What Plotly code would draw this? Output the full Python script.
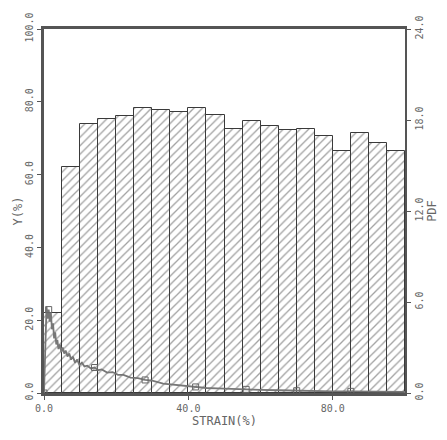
import plotly.graph_objects as go

# Histogram bins (STRAIN %, width 5) and bar heights Y(%)
bin_left = [0, 5, 10, 15, 20, 25, 30, 35, 40, 45, 50, 55, 60, 65, 70, 75, 80, 85, 90, 95]
bar_y = [22.0, 62.0, 74.0, 75.3, 76.0, 78.2, 77.8, 77.3, 78.3, 76.3,
         72.5, 74.7, 73.4, 72.3, 72.5, 70.5, 66.6, 71.4, 68.6, 66.6]

# PDF curve (right axis)
pdf_x = [0.0, 0.4, 0.7, 1.0, 1.3, 1.6, 1.9, 2.2, 2.5, 2.8, 3.1, 3.4, 3.7, 4.0, 4.4, 4.8,
         5.2, 5.6, 6.0, 6.5, 7.0, 7.5, 8.0, 8.6, 9.2, 9.8, 10.5, 11.2, 12.0, 13.0, 14.0,
         15.0, 16.0, 17.5, 19.0, 20.5, 22, 24, 26, 28, 30, 33, 36, 39, 42, 45, 48, 52,
         56, 60, 65, 70, 75, 80, 85, 90, 95, 100]
pdf_y = [0.0, 4.6, 5.7, 4.9, 5.5, 4.7, 5.3, 4.2, 4.6, 3.6, 4.0, 3.2, 3.5, 2.9, 3.2, 2.7,
         3.0, 2.6, 2.8, 2.4, 2.6, 2.2, 2.4, 2.0, 2.2, 1.85, 2.0, 1.75, 1.8, 1.62, 1.68,
         1.5, 1.55, 1.35, 1.38, 1.2, 1.2, 1.02, 0.98, 0.86, 0.82, 0.62, 0.55, 0.45, 0.40,
         0.33, 0.31, 0.26, 0.24, 0.20, 0.18, 0.15, 0.14, 0.11, 0.11, 0.09, 0.09, 0.07]
marker_at = [0.0, 1.3, 14.0, 28, 42, 56, 70, 85]

y_ticks = [0, 20, 40, 60, 80, 100]
pdf_ticks = [0, 6, 12, 18, 24]
x_ticks = [0, 40, 80]

ink = "#555555"
font = dict(family="DejaVu Sans Mono", size=10, color="#666666")
tfont = dict(family="DejaVu Sans Mono", size=12, color="#666666")

fig = go.Figure()
fig.add_trace(go.Bar(
    x=[b + 2.5 for b in bin_left], y=bar_y, width=5,
    marker=dict(color="white", line=dict(color="#3a3a3a", width=1),
                pattern=dict(shape="/", fgcolor="#444444", bgcolor="white",
                             size=6, solidity=0.22)),
    showlegend=False,
))
fig.add_trace(go.Scatter(
    x=pdf_x, y=pdf_y, yaxis="y2", mode="lines",
    line=dict(color="#777777", width=1.8), showlegend=False,
))
mx = [x for x in pdf_x if x in marker_at]
my = [pdf_y[pdf_x.index(x)] for x in mx]
fig.add_trace(go.Scatter(
    x=mx, y=my, yaxis="y2", mode="markers",
    marker=dict(symbol="square-open", size=6, color="#666666", line=dict(width=1)),
    showlegend=False,
))

fig.update_layout(
    width=447, height=440,
    margin=dict(l=44, r=35, t=27, b=47),
    paper_bgcolor="white", plot_bgcolor="white",
    bargap=0, font=font,
    xaxis=dict(range=[0, 100], tickvals=x_ticks, tickformat=".1f",
               showgrid=False, zeroline=False, showline=True, linecolor=ink,
               linewidth=2.5, mirror=True, ticks="outside", ticklen=4,
               tickcolor=ink, tickfont=font,
               title=dict(text="STRAIN(%)", font=tfont, standoff=4)),
    yaxis=dict(range=[0, 100], tickvals=y_ticks, tickformat=".1f",
               showgrid=False, zeroline=False, showline=True, linecolor=ink,
               linewidth=2.5, ticks="outside", ticklen=4, tickcolor=ink,
               tickangle=-90, tickfont=font,
               title=dict(text="Y(%)", font=tfont, standoff=0)),
    yaxis2=dict(range=[0, 24], tickvals=pdf_ticks, tickformat=".1f",
                overlaying="y", side="right",
                showgrid=False, zeroline=False, showline=True, linecolor=ink,
                linewidth=2, ticks="outside", ticklen=4, tickcolor=ink,
                tickangle=-90, tickfont=font,
                title=dict(text="PDF", font=tfont, standoff=2)),
)

fig.write_html("out.html")
